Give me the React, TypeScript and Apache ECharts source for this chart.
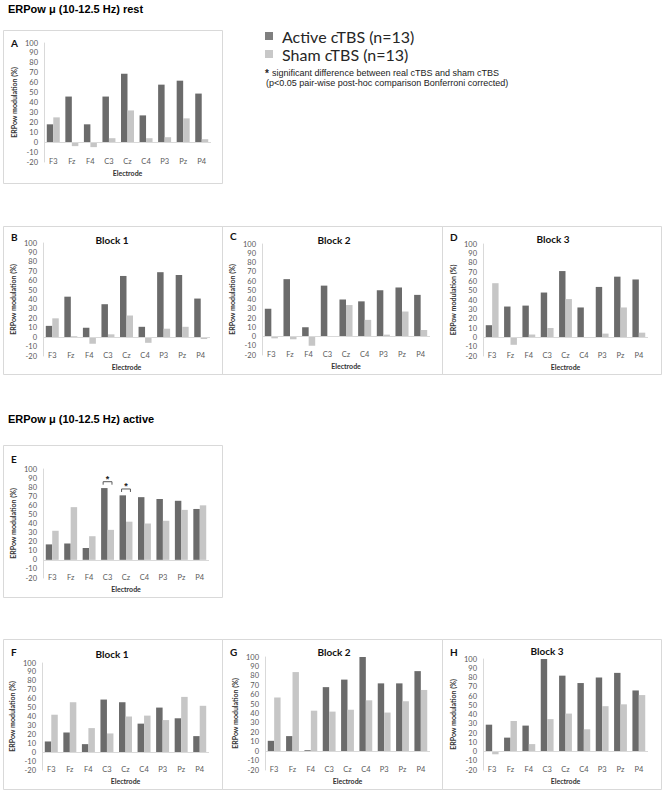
import React, { useEffect, useRef } from "react";
import * as echarts from "echarts";

const electrodes = ["F3", "Fz", "F4", "C3", "Cz", "C4", "P3", "Pz", "P4"];
const yTicks = { min: -20, max: 100, step: 10 };

// ERPow mu rest
const restAllActive = [18, 46, 18, 46, 69, 27, 58, 62, 49];
const restAllSham = [25, -4, -5, 4, 32, 4, 5, 24, 3];
const restB1Active = [12, 43, 10, 35, 65, 11, 69, 66, 41];
const restB1Sham = [20, 1, -7, 3, 23, -6, 9, 11, -2];
const restB2Active = [30, 62, 10, 55, 40, 38, 50, 53, 45];
const restB2Sham = [-2, -3, -10, 0, 34, 18, 2, 27, 7];
const restB3Active = [13, 33, 34, 48, 71, 32, 54, 65, 62];
const restB3Sham = [58, -8, 3, 10, 41, 0, 4, 32, 5];
// ERPow mu active
const actAllActive = [17, 18, 13, 79, 71, 69, 67, 65, 56];
const actAllSham = [32, 58, 26, 33, 42, 40, 43, 55, 60];
const actB1Active = [12, 22, 9, 59, 56, 32, 50, 38, 18];
const actB1Sham = [42, 56, 27, 21, 40, 41, 36, 62, 52];
const actB2Active = [11, 16, 1, 68, 76, 100, 72, 72, 85];
const actB2Sham = [57, 84, 43, 42, 44, 54, 41, 53, 65];
const actB3Active = [29, 15, 28, 100, 82, 74, 80, 85, 66];
const actB3Sham = [-3, 33, 8, 35, 41, 24, 49, 51, 61];

// significance brackets in panel E: [category index, bracket level, star level]
const sigMarks = [
  [3, 86, 91],
  [4, 78, 84],
];

const seriesNames = ["Active cTBS (n=13)", "Sham cTBS (n=13)"];
const panelLetters = ["A", "B", "C", "D", "E", "F", "G", "H"];
const panelTitles = ["", "Block 1", "Block 2", "Block 3", "", "Block 1", "Block 2", "Block 3"];
const sectionTitles = ["ERPow \u03bc (10-12.5 Hz) rest", "ERPow \u03bc (10-12.5 Hz) active"];
const footnote1 = "significant difference between real cTBS and sham cTBS";
const footnote2 = "(p<0.05 pair-wise post-hoc comparison Bonferroni corrected)";

const ACTIVE = "#6b6b6b";
const SHAM = "#c6c6c6";
const BORDER = "#d9d9d9";
const LABEL = "#595959";

// layout (pixels): plot area [left, right, top(100), bottom(-20)], box [x, y, w, h]
const plots = [
  [44, 211, 43, 162],
  [43, 210, 243, 356],
  [262, 430, 244, 355],
  [483, 648, 244, 356],
  [43, 209, 469, 578],
  [42, 209, 663, 770],
  [265, 430, 657, 770],
  [483, 648, 659, 770],
];
const boxes = [
  [3, 30, 219, 153],
  [3, 226, 219, 148],
  [222, 226, 220, 148],
  [442, 226, 219, 148],
  [3, 445, 219, 152],
  [3, 639, 219, 150],
  [222, 639, 220, 150],
  [442, 639, 219, 150],
];
const letterPos = [
  [11, 43],
  [11, 237],
  [230, 236],
  [450, 237],
  [11, 459],
  [11, 652],
  [230, 652],
  [450, 652],
];
const titlePos = [
  [0, 0],
  [112, 240],
  [334, 240],
  [553, 239],
  [0, 0],
  [112, 654],
  [334, 652],
  [547, 651],
];

const panelData = [
  [restAllActive, restAllSham],
  [restB1Active, restB1Sham],
  [restB2Active, restB2Sham],
  [restB3Active, restB3Sham],
  [actAllActive, actAllSham],
  [actB1Active, actB1Sham],
  [actB2Active, actB2Sham],
  [actB3Active, actB3Sham],
];

export default function App() {
  const ref = useRef<HTMLDivElement>(null);
  useEffect(() => {
    if (!ref.current) return;
    const chart = echarts.init(ref.current, null, { renderer: "svg" });

    const grids: any[] = [];
    const xAxes: any[] = [];
    const yAxes: any[] = [];
    const series: any[] = [];
    const graphics: any[] = [];

    plots.forEach((p, i) => {
      const [l, r, t, b] = p;
      grids.push({ left: l, top: t, width: r - l, height: b - t, containLabel: false });
      xAxes.push({
        type: "category",
        gridIndex: i,
        data: electrodes,
        axisLine: { show: false },
        axisTick: { show: false },
        axisLabel: { color: LABEL, fontSize: 7.5, fontFamily: "Lato", margin: -5, interval: 0 },
        name: "Electrode",
        nameLocation: "middle",
        nameGap: 7,
        nameTextStyle: { fontWeight: "bold", fontSize: 7, fontFamily: "Lato", color: "#333333" },
      });
      yAxes.push({
        type: "value",
        gridIndex: i,
        min: yTicks.min,
        max: yTicks.max,
        interval: yTicks.step,
        axisLine: { show: true, lineStyle: { color: BORDER, width: 1 } },
        axisTick: { show: false },
        splitLine: { show: false },
        axisLabel: { color: LABEL, fontSize: 7.5, fontFamily: "Lato", margin: 6 },
        name: "ERPow modulation (%)",
        nameLocation: "middle",
        nameRotate: 90,
        nameGap: 27,
        nameTextStyle: { fontWeight: "bold", fontSize: 7, fontFamily: "Lato", color: "#333333" },
      });
      const [act, sham] = panelData[i];
      series.push({
        type: "bar",
        name: seriesNames[0],
        xAxisIndex: i,
        yAxisIndex: i,
        data: act,
        barGap: "0%",
        barCategoryGap: "30%",
        itemStyle: { color: ACTIVE },
        markLine: {
          silent: true,
          symbol: ["none", "none"],
          label: { show: false },
          lineStyle: { color: BORDER, width: 1, type: "solid" },
          data: [{ yAxis: 0 }],
        },
      });
      series.push({
        type: "bar",
        name: seriesNames[1],
        xAxisIndex: i,
        yAxisIndex: i,
        data: sham,
        barGap: "0%",
        barCategoryGap: "30%",
        itemStyle: { color: SHAM },
      });

      const [bx, by, bw, bh] = boxes[i];
      graphics.push({
        type: "rect",
        shape: { x: bx + 0.5, y: by + 0.5, width: bw, height: bh },
        style: { fill: "none", stroke: BORDER, lineWidth: 1 },
        silent: true,
        z: -1,
      });
      graphics.push({
        type: "text",
        x: letterPos[i][0],
        y: letterPos[i][1],
        style: {
          text: panelLetters[i],
          font: "bold 10px Lato",
          fill: "#111111",
          verticalAlign: "middle",
          align: "left",
        },
      });
      if (panelTitles[i]) {
        graphics.push({
          type: "text",
          x: titlePos[i][0],
          y: titlePos[i][1],
          style: {
            text: panelTitles[i],
            font: "bold 10px Lato",
            fill: "#111111",
            verticalAlign: "middle",
            align: "center",
          },
        });
      }
    });

    series.push({
      type: "custom",
      xAxisIndex: 4,
      yAxisIndex: 4,
      data: sigMarks,
      silent: true,
      renderItem: (params: any, api: any) => {
        const x = api.value(0);
        const p = api.coord([x, api.value(1)]);
        const s = api.coord([x, api.value(2)]);
        const bw = api.size([1, 0])[0];
        const h = bw * 0.24;
        return {
          type: "group",
          children: [
            {
              type: "polyline",
              shape: {
                points: [
                  [p[0] - h, p[1] + 3],
                  [p[0] - h, p[1]],
                  [p[0] + h, p[1]],
                  [p[0] + h, p[1] + 3],
                ],
              },
              style: { stroke: "#595959", fill: null, lineWidth: 1 },
            },
            {
              type: "text",
              style: {
                text: "*",
                x: s[0],
                y: s[1] + 2,
                align: "center",
                verticalAlign: "middle",
                font: "bold 9px 'Liberation Sans'",
                fill: "#222222",
              },
            },
          ],
        };
      },
    });

    // section headings
    graphics.push({
      type: "text",
      x: 8,
      y: 9,
      style: { text: sectionTitles[0], font: "bold 11px 'Liberation Sans'", fill: "#000", verticalAlign: "middle" },
    });
    graphics.push({
      type: "text",
      x: 8,
      y: 419,
      style: { text: sectionTitles[1], font: "bold 11px 'Liberation Sans'", fill: "#000", verticalAlign: "middle" },
    });
    // legend
    graphics.push({ type: "rect", shape: { x: 265, y: 32, width: 8, height: 8 }, style: { fill: "#7f7f7f" } });
    graphics.push({
      type: "text",
      x: 282,
      y: 36,
      style: { text: seriesNames[0], font: "16px Lato", lineHeight: 16, fill: "#262626", verticalAlign: "middle" },
    });
    graphics.push({ type: "rect", shape: { x: 265, y: 50, width: 8, height: 8 }, style: { fill: "#c8c8c8" } });
    graphics.push({
      type: "text",
      x: 282,
      y: 54,
      style: { text: seriesNames[1], font: "16px Lato", lineHeight: 16, fill: "#262626", verticalAlign: "middle" },
    });
    // footnote
    graphics.push({
      type: "text",
      x: 265,
      y: 73,
      style: { text: "*", font: "bold 10px 'Liberation Sans'", fill: "#222", verticalAlign: "middle" },
    });
    graphics.push({
      type: "text",
      x: 272,
      y: 73,
      style: { text: footnote1, font: "9px 'Liberation Sans'", fill: "#222", verticalAlign: "middle" },
    });
    graphics.push({
      type: "text",
      x: 266,
      y: 83,
      style: { text: footnote2, font: "9px 'Liberation Sans'", fill: "#222", verticalAlign: "middle" },
    });

    chart.setOption({
      animation: false,
      backgroundColor: "#ffffff",
      grid: grids,
      xAxis: xAxes,
      yAxis: yAxes,
      series,
      graphic: graphics,
    });
    return () => chart.dispose();
  }, []);
  return (
    <div
      ref={ref}
      style={{ position: "absolute", left: 0, top: 0, width: 664, height: 793 }}
    />
  );
}
